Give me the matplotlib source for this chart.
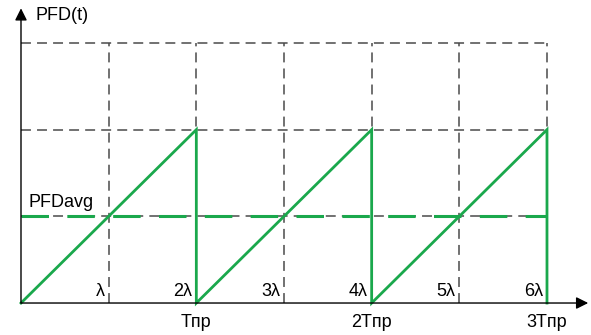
import matplotlib
matplotlib.use('Agg')
import matplotlib.pyplot as plt

# sawtooth PFD(t): grows linearly, drops at each proof test
t_points = [0, 2, 2, 4, 4, 6, 6]
pfd_points = [0, 2, 0, 2, 0, 2, 0]
pfd_avg = 1
grid_levels = [1, 2, 3]
lambda_pos = [1, 2, 3, 4, 5, 6]
lambda_labels = ['λ', '2λ', '3λ', '4λ', '5λ', '6λ']
test_pos = [2, 4, 6]
test_labels = ['Tпр', '2Tпр', '3Tпр']

plt.rcParams['font.family'] = ['Liberation Sans', 'DejaVu Sans']

fig = plt.figure(figsize=(5.91, 3.35), dpi=100)
ax = fig.add_axes([0, 0, 1, 1])
ax.set_xlim(-0.2395, 6.502)
ax.set_ylim(-0.369, 3.496)
ax.axis('off')

grey = '#4a4a4a'
green = '#1aa84c'
dash = (0, (6.5, 4))

# dashed grid
for lv in grid_levels:
    ax.plot([0, 6], [lv, lv], color=grey, lw=1.1, linestyle=dash, zorder=1)
for xp in lambda_pos:
    ax.plot([xp, xp], [0, 3], color=grey, lw=1.1, linestyle=dash, zorder=1)

# average line (green dashes over grey)
ax.plot([0, 6], [pfd_avg, pfd_avg], color=green, lw=2.2,
        linestyle=(0, (9, 6)), zorder=2)

# sawtooth
ax.plot(t_points, pfd_points, color=green, lw=2.0, zorder=3,
        solid_joinstyle='miter')

# axes with arrows
ax.annotate('', xy=(0, 3.40), xytext=(0, 0),
            arrowprops=dict(arrowstyle='-|>', color='black', lw=1.0,
                            mutation_scale=18, shrinkA=0, shrinkB=0))
ax.annotate('', xy=(6.47, 0), xytext=(0, 0),
            arrowprops=dict(arrowstyle='-|>', color='black', lw=1.0,
                            mutation_scale=18, shrinkA=0, shrinkB=0))

fs = 13
for xp, lab in zip(lambda_pos, lambda_labels):
    ax.text(xp - 0.045, 0.03, lab, ha='right', va='bottom', fontsize=fs)
for xp, lab in zip(test_pos, test_labels):
    ax.text(xp, -0.22, lab, ha='center', va='center', fontsize=fs)

ax.text(0.08, 1.165, 'PFDavg', ha='left', va='center', fontsize=fs)
ax.text(0.16, 3.32, 'PFD(t)', ha='left', va='center', fontsize=fs)

fig.savefig('out.png', dpi=100)
